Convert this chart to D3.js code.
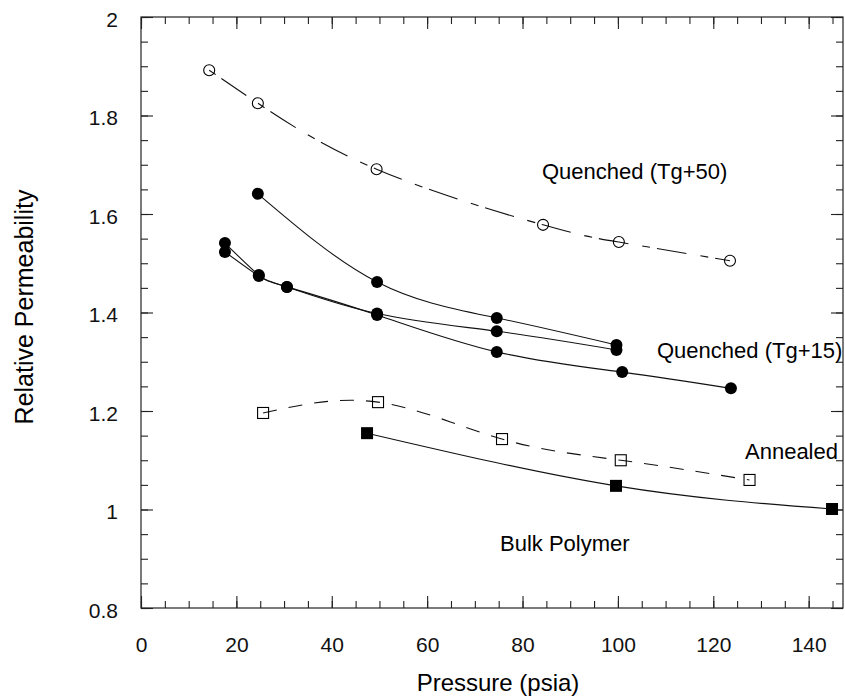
<!DOCTYPE html>
<html>
<head>
<meta charset="utf-8">
<script src="https://cdn.jsdelivr.net/npm/d3@7"></script>
<style>
  body { margin: 0; background: #fff; }
  svg { display: block; font-family: "Liberation Sans", Arial, sans-serif; }
  .ax path { display: none; }
  .ax line { stroke: #222; stroke-width: 1.1; }
  .ax text { fill: #111; font-size: 21px; }
</style>
</head>
<body>
<svg id="chart"></svg>
<script>
var xTicks = [0, 20, 40, 60, 80, 100, 120, 140];
var yTicks = [0.8, 1, 1.2, 1.4, 1.6, 1.8, 2];

// Quenched (Tg+50), open circles, dash-dot
var q50P = [14.3, 24.5, 49.4, 84.3, 100.2, 123.5];
var q50V = [1.892, 1.825, 1.691, 1.578, 1.543, 1.505];

// Quenched (Tg+15), three runs, filled circles
var q15aP = [24.5, 49.5, 74.6, 99.7];
var q15aV = [1.641, 1.462, 1.389, 1.334];
var q15bP = [17.6, 24.7, 30.6, 49.5, 74.6, 99.7];
var q15bV = [1.541, 1.476, 1.452, 1.398, 1.362, 1.324];
var q15cP = [17.6, 24.7, 30.6, 49.5, 74.6, 100.9, 123.7];
var q15cV = [1.523, 1.474, 1.452, 1.395, 1.320, 1.279, 1.246];

// Annealed, open squares, dashed
var annP = [25.6, 49.7, 75.7, 100.6, 127.6];
var annV = [1.196, 1.218, 1.143, 1.100, 1.060];

// Bulk polymer, filled squares
var bulkP = [47.4, 99.6, 144.9];
var bulkV = [1.155, 1.048, 1.001];

var width = 845, height = 698;
var margin = {top: 17, right: 2, bottom: 90, left: 141};

var svg = d3.select('#chart')
    .attr('width', width)
    .attr('height', height);

var xScale = d3.scaleLinear().domain([0, 147.2]).range([margin.left, width - margin.right]);
var yScale = d3.scaleLinear().domain([0.8, 2]).range([height - margin.bottom, margin.top]);

var x0 = xScale.range()[0], x1 = xScale.range()[1];
var y0 = yScale.range()[0], y1 = yScale.range()[1];

var xMinor = d3.range(0, 147.2, 5);
var yMinor = d3.range(0.8, 2.001, 0.05);
var fmt = function (d) { return String(+d.toFixed(1)); };

// minor ticks
svg.append('g').attr('class', 'ax').attr('transform', 'translate(0,' + y0 + ')')
    .call(d3.axisBottom(xScale).tickValues(xMinor).tickSize(-7).tickFormat(''));
svg.append('g').attr('class', 'ax').attr('transform', 'translate(0,' + y1 + ')')
    .call(d3.axisTop(xScale).tickValues(xMinor).tickSize(-7).tickFormat(''));
svg.append('g').attr('class', 'ax').attr('transform', 'translate(' + x0 + ',0)')
    .call(d3.axisLeft(yScale).tickValues(yMinor).tickSize(-7).tickFormat(''));
svg.append('g').attr('class', 'ax').attr('transform', 'translate(' + x1 + ',0)')
    .call(d3.axisRight(yScale).tickValues(yMinor).tickSize(-7).tickFormat(''));

// major ticks + labels
svg.append('g').attr('class', 'ax').attr('transform', 'translate(0,' + y0 + ')')
    .call(d3.axisBottom(xScale).tickValues(xTicks).tickSizeInner(-12).tickSizeOuter(0).tickPadding(29).tickFormat(fmt));
svg.append('g').attr('class', 'ax yl').attr('transform', 'translate(' + x0 + ',0)')
    .call(d3.axisLeft(yScale).tickValues(yTicks).tickSizeInner(-12).tickSizeOuter(0).tickPadding(23).tickFormat(fmt))
    .selectAll('text').attr('dy', '0.45em');
svg.append('g').attr('class', 'ax').attr('transform', 'translate(0,' + y1 + ')')
    .call(d3.axisTop(xScale).tickValues(xTicks).tickSize(-12).tickFormat(''));
svg.append('g').attr('class', 'ax').attr('transform', 'translate(' + x1 + ',0)')
    .call(d3.axisRight(yScale).tickValues(yTicks).tickSize(-12).tickFormat(''));

svg.append('rect')
    .attr('x', x0).attr('y', y1)
    .attr('width', x1 - x0).attr('height', y0 - y1)
    .attr('fill', 'none').attr('stroke', '#222').attr('stroke-width', 1.2);

// axis titles
svg.append('text')
    .attr('x', 498).attr('y', 691)
    .attr('text-anchor', 'middle')
    .style('font-size', '24px')
    .text('Pressure (psia)');

svg.append('text')
    .attr('transform', 'translate(33,307)rotate(-90)')
    .attr('text-anchor', 'middle')
    .style('font-size', '25px')
    .text('Relative Permeability');

function zip(p, v) {
    return p.map(function (d, i) { return {p: d, v: v[i]}; });
}

var line = d3.line()
    .x(function (d) { return xScale(d.p); })
    .y(function (d) { return yScale(d.v); })
    .curve(d3.curveNatural);

function drawLine(data, dash) {
    svg.append('path')
        .datum(data)
        .attr('d', line)
        .attr('fill', 'none')
        .attr('stroke', '#111')
        .attr('stroke-width', 1.1)
        .attr('stroke-dasharray', dash);
}

function drawCircles(data, filled, r) {
    svg.selectAll(null)
        .data(data)
        .enter().append('circle')
        .attr('cx', function (d) { return xScale(d.p); })
        .attr('cy', function (d) { return yScale(d.v); })
        .attr('r', r)
        .attr('fill', filled ? '#000' : 'none')
        .attr('stroke', '#000')
        .attr('stroke-width', filled ? 0 : 1.1);
}

function drawSquares(data, filled, s) {
    svg.selectAll(null)
        .data(data)
        .enter().append('rect')
        .attr('x', function (d) { return xScale(d.p) - s / 2; })
        .attr('y', function (d) { return yScale(d.v) - s / 2; })
        .attr('width', s)
        .attr('height', s)
        .attr('fill', filled ? '#000' : 'none')
        .attr('stroke', '#000')
        .attr('stroke-width', filled ? 0 : 1.1);
}

var q50 = zip(q50P, q50V);
var q15a = zip(q15aP, q15aV);
var q15b = zip(q15bP, q15bV);
var q15c = zip(q15cP, q15cV);
var ann = zip(annP, annV);
var bulk = zip(bulkP, bulkV);

drawLine(q50, '8,7,30,14');
drawLine(q15a, null);
drawLine(q15b, null);
drawLine(q15c, null);
drawLine(ann, '14,12');
drawLine(bulk, null);

drawCircles(q50, false, 5.5);
drawCircles(q15a, true, 6);
drawCircles(q15b, true, 6);
drawCircles(q15c, true, 6);
drawSquares(ann, false, 11);
drawSquares(bulk, true, 12);

// series labels
var labels = [
    {t: 'Quenched (Tg+50)', x: 542, y: 179},
    {t: 'Quenched (Tg+15)', x: 657, y: 358},
    {t: 'Annealed', x: 745, y: 459},
    {t: 'Bulk Polymer', x: 500, y: 551}
];
svg.selectAll('.lbl')
    .data(labels)
    .enter().append('text')
    .attr('class', 'lbl')
    .attr('x', function (d) { return d.x; })
    .attr('y', function (d) { return d.y; })
    .style('font-size', '22px')
    .text(function (d) { return d.t; });
</script>
</body>
</html>
